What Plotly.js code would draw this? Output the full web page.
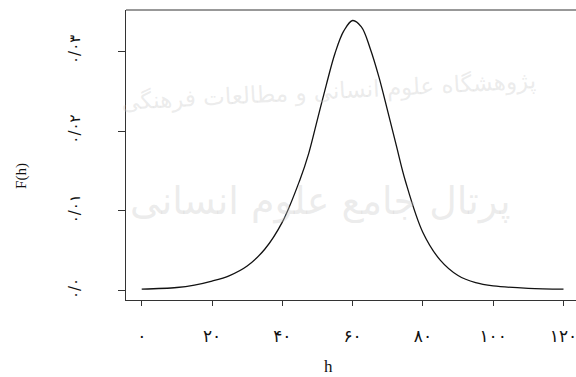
<!DOCTYPE html>
<html>
<head>
<meta charset="utf-8">
<script src="https://cdn.plot.ly/plotly-3.0.1.min.js"></script>
<style>html,body{margin:0;padding:0;background:#fff;}#chart{width:576px;height:377px;}</style>
</head>
<body>
<div id="chart"></div>
<script>
// Values
var hValues = [0, 10, 15, 20, 25, 30, 35, 40, 45, 47.5, 50, 52.5, 55, 57.5, 60, 62.5, 65, 67.5, 70, 72.5, 75, 80, 85, 90, 95, 100, 110, 120];
var fValues = [0.0002, 0.0004, 0.0007, 0.0012, 0.0019, 0.0031, 0.0052, 0.0086, 0.0139, 0.0172, 0.0215, 0.0258, 0.0298, 0.0326, 0.0339, 0.0331, 0.0304, 0.0268, 0.0225, 0.0181, 0.0138, 0.0073, 0.0038, 0.0019, 0.0010, 0.0006, 0.0003, 0.0002];
var xTickVals = [0, 20, 40, 60, 80, 100, 120];
var xTickText = ["۰", "۲۰", "۴۰", "۶۰", "۸۰", "۱۰۰", "۱۲۰"];
var yTickVals = [0, 0.01, 0.02, 0.03];
var yTickText = ["۰/۰", "۰/۰۱", "۰/۰۲", "۰/۰۳"];
var xLabel = "h";
var yLabel = "F(h)";
var watermark1 = "پژوهشگاه علوم انسانی و مطالعات فرهنگی";
var watermark2 = "پرتال جامع علوم انسانی";

var trace = {
  x: hValues, y: fValues, type: 'scatter', mode: 'lines',
  line: {color: '#111', width: 1.3, shape: 'spline', smoothing: 1},
  hoverinfo: 'skip'
};

var layout = {
  width: 576, height: 377,
  margin: {l: 126, r: 0, t: 10, b: 77},
  paper_bgcolor: '#fff', plot_bgcolor: '#fff',
  showlegend: false,
  font: {family: 'Liberation Serif, serif', color: '#111'},
  xaxis: {
    range: [-4.47, 123.56], showgrid: false, zeroline: false,
    showline: true, linecolor: '#333', linewidth: 1,
    ticks: 'outside', ticklen: 5, tickcolor: '#333',
    tickvals: xTickVals, ticktext: xTickText,
    tickfont: {family: 'DejaVu Sans, sans-serif', size: 17, color: '#111'},
    ticklabelstandoff: 16, ticklabeloverflow: 'allow'
  },
  yaxis: {
    range: [-0.00117, 0.03522], showgrid: false, zeroline: false,
    showline: true, linecolor: '#333', linewidth: 1,
    ticks: 'outside', ticklen: 7, tickcolor: '#333',
    tickvals: yTickVals, ticktext: yTickText, tickangle: -90,
    tickfont: {family: 'DejaVu Sans, sans-serif', size: 15, color: '#111'},
    ticklabelstandoff: 32
  },
  shapes: [
    {type: 'line', xref: 'paper', yref: 'paper', x0: 0, x1: 1, y0: 1, y1: 1,
     line: {color: '#333', width: 1}}
  ],
  annotations: [
    {text: watermark1, xref: 'paper', yref: 'paper', x: 0.45, y: 0.72,
     xanchor: 'center', yanchor: 'middle', showarrow: false, textangle: -3,
     font: {family: 'DejaVu Sans, sans-serif', size: 23, color: 'rgba(200,200,200,0.35)'}},
    {text: watermark2, xref: 'paper', yref: 'paper', x: 0.43, y: 0.34,
     xanchor: 'center', yanchor: 'middle', showarrow: false,
     font: {family: 'DejaVu Sans, sans-serif', size: 38, color: 'rgba(200,200,200,0.35)'}},
    {text: xLabel, xref: 'paper', yref: 'paper', x: 0.449, y: -0.228,
     xanchor: 'center', yanchor: 'middle', showarrow: false,
     font: {family: 'Liberation Serif, serif', size: 17, color: '#111'}},
    {text: yLabel, xref: 'paper', yref: 'paper', x: -0.231, y: 0.428,
     xanchor: 'center', yanchor: 'middle', showarrow: false, textangle: -90,
     font: {family: 'Liberation Serif, serif', size: 15, color: '#111'}}
  ]
};

Plotly.newPlot('chart', [trace], layout, {displayModeBar: false, staticPlot: true});
</script>
</body>
</html>
